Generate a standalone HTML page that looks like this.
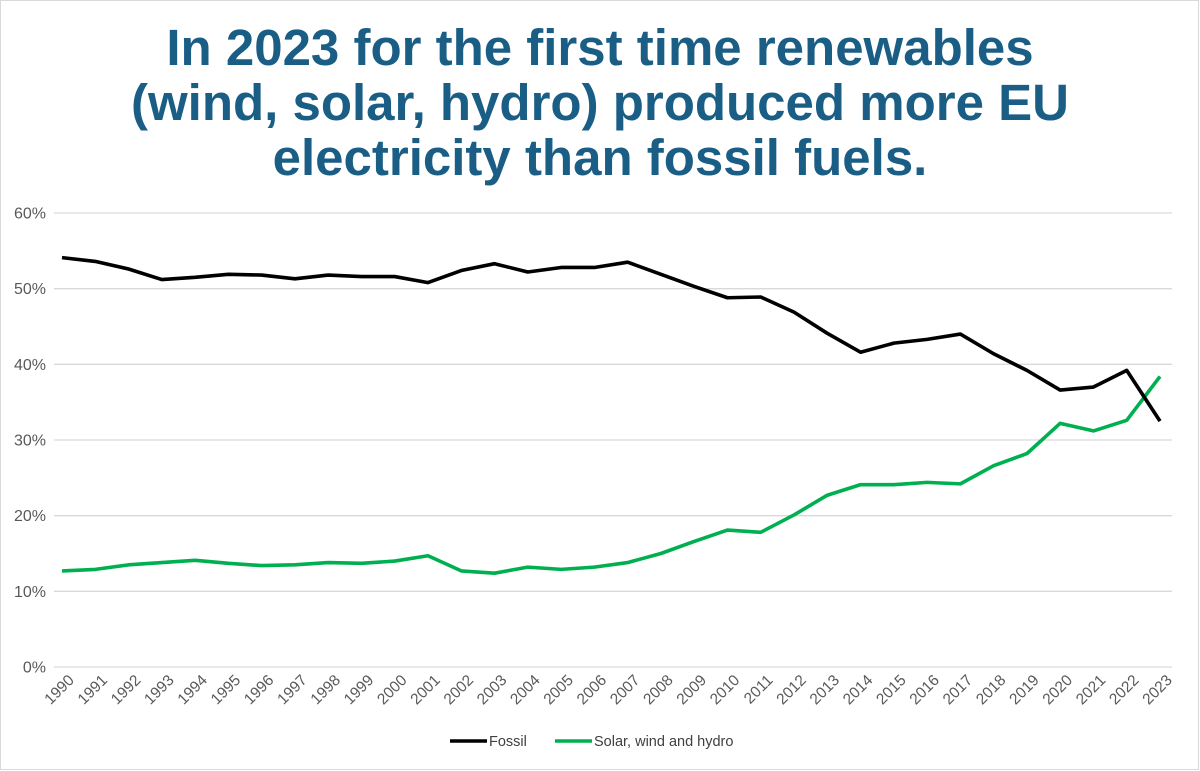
<!DOCTYPE html>
<html><head><meta charset="utf-8"><style>
html,body{margin:0;padding:0;background:#fff;}
body{width:1200px;height:771px;overflow:hidden;position:relative;font-family:"Liberation Sans",Arial,sans-serif;}
#frame{position:absolute;left:0;top:0;width:1197px;height:768px;border:1px solid #d9d9d9;}
#title{position:absolute;left:0;top:20px;width:1200px;text-align:center;color:#1a5e85;font-weight:bold;font-size:51px;line-height:55px;}
svg{position:absolute;left:0;top:0;}
</style></head><body>
<div id="frame"></div>
<div id="title">In 2023 for the first time renewables<br>(wind, solar, hydro) produced more EU<br>electricity than fossil fuels.</div>
<svg id="chart" width="1200" height="771"></svg>
<script>
const years = [1990,1991,1992,1993,1994,1995,1996,1997,1998,1999,2000,2001,2002,2003,2004,2005,2006,2007,2008,2009,2010,2011,2012,2013,2014,2015,2016,2017,2018,2019,2020,2021,2022,2023];
const fossil = [54.1,53.6,52.6,51.2,51.5,51.9,51.8,51.3,51.8,51.6,51.6,50.8,52.4,53.3,52.2,52.8,52.8,53.5,51.9,50.3,48.8,48.9,46.9,44.1,41.6,42.8,43.3,44.0,41.4,39.2,36.6,37.0,39.2,32.5];
const renew = [12.7,12.9,13.5,13.8,14.1,13.7,13.4,13.5,13.8,13.7,14.0,14.7,12.7,12.4,13.2,12.9,13.2,13.8,15.0,16.6,18.1,17.8,20.1,22.7,24.1,24.1,24.4,24.2,26.6,28.2,32.2,31.2,32.6,38.4];
const yTicks = [0,10,20,30,40,50,60];
const seriesNames = ["Fossil","Solar, wind and hydro"];

const NS="http://www.w3.org/2000/svg";
const svg=document.getElementById('chart');
const left=50,right=1172,top0=213,bot=667,yMax=60;
const firstX=62,lastX=1160;
const xs=i=>firstX+(lastX-firstX)*i/(years.length-1);
const ys=v=>bot-(v/yMax)*(bot-top0);
function mk(t,a){const e=document.createElementNS(NS,t);for(const k in a)e.setAttribute(k,a[k]);svg.appendChild(e);return e;}
yTicks.forEach(t=>{
  const g=mk('line',{x1:left+4,x2:right,y1:ys(t),y2:ys(t),stroke:'#d9d9d9','stroke-width':1.3});
  
  
  const l=mk('text',{x:46,y:ys(t)+5.5,'text-anchor':'end','font-size':16,fill:'#595959'});
  l.textContent=t+'%';
  
  
});
years.forEach((y,i)=>{
  const x=xs(i)+13,yy=bot+14;
  const l=mk('text',{x:x,y:yy,'text-anchor':'end','font-size':15.5,fill:'#595959',transform:`rotate(-45 ${x} ${yy})`});
  l.textContent=y;
  
  
});
function line(data,color,name){
  const p=mk('polyline',{points:data.map((v,i)=>xs(i)+','+ys(v)).join(' '),fill:'none',stroke:color,'stroke-width':3.6,'stroke-linejoin':'round'});
  
  
}
line(renew,'#00b050','series-renewables');
line(fossil,'#000000','series-fossil');
[[450,'#000'],[555,'#00b050']].forEach((d,i)=>{
  const l=mk('line',{x1:d[0],x2:d[0]+37,y1:741,y2:741,stroke:d[1],'stroke-width':3.4});
  
  
  const t=mk('text',{x:d[0]+39,y:746,'font-size':14.5,fill:'#404040'});
  t.textContent=seriesNames[i];
  
  
});
</script>
</body></html>
